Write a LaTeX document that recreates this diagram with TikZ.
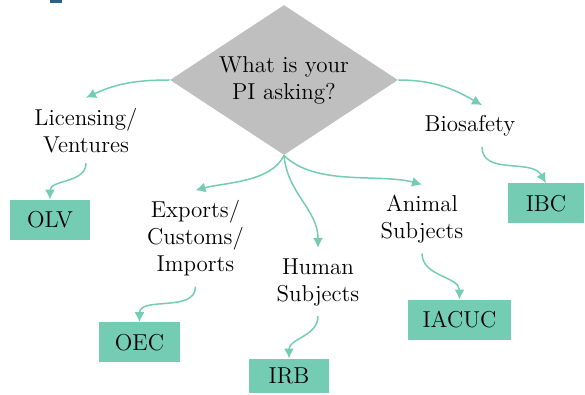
\documentclass[tikz,border=0pt]{standalone}
\usepackage{amsmath}
\usepackage{amssymb}
\usepackage{xcolor}
\usetikzlibrary{shapes.geometric,arrows.meta}

\definecolor{mint}{HTML}{74CDB2}
\definecolor{askgray}{HTML}{BFBFBF}
\definecolor{edgeblue}{HTML}{2E5F8A}

\begin{document}
\begin{tikzpicture}[x=0.5pt,y=0.5pt,
            topic/.style={align=center,inner sep=5pt,font=\fontsize{11.5}{13.5}\selectfont},
            office/.style={fill=mint,minimum height=20pt,inner sep=0pt,font=\fontsize{11.5}{13.5}\selectfont},
            link/.style={draw=mint,line width=0.75pt,-{Latex[length=5pt,width=5pt]}}]
            \useasboundingbox (0,0) rectangle (585,-395);
            \fill[edgeblue] (50,0) rectangle (62,-3);

            \node (ask) at (284,-80) [diamond,aspect=1.52,fill=askgray,inner sep=0pt,minimum width=114pt,minimum height=75pt,align=center,font=\fontsize{11.5}{13.5}\selectfont] {What is your\\PI asking?};

            \node (lic) at (86,-130.5) [topic] {Licensing/\\Ventures};
            \node (bio) at (470,-126) [topic] {Biosafety};
            \node (exp) at (195.5,-238.5) [topic] {Exports/\\Customs/\\Imports};
            \node (hum) at (318,-282) [topic] {Human\\Subjects};
            \node (ani) at (422,-219) [topic] {Animal\\Subjects};

            \node (olv) at (50,-220) [office,minimum width=40pt] {OLV};
            \node (oec) at (139.5,-342.5) [office,minimum width=40.5pt] {OEC};
            \node (irb) at (289,-376) [office,minimum width=40pt,minimum height=17pt] {IRB};
            \node (iacuc) at (459.5,-320) [office,minimum width=51.5pt] {IACUC};
            \node (ibc) at (546,-203.5) [office,minimum width=38pt] {IBC};

            % question to topics
            \draw[link] (ask.west) to[out=180,in=25] (lic.north);
            \draw[link] (ask.east) to[out=0,in=150] ([xshift=6pt]bio.north);
            \draw[link] (ask.south) to[out=-115,in=15,looseness=0.8] (exp.north);
            \draw[link] (ask.south) to[out=-85,in=90] (hum.north);
            \draw[link] (ask.south) to[out=-45,in=165,looseness=0.8] (ani.north);

            % topics to offices
            \draw[link] (lic.south) to[out=-90,in=90] (olv.north);
            \draw[link] ([xshift=6pt]bio.south) to[out=-90,in=120] (ibc.north);
            \draw[link] (exp.south) to[out=-90,in=90] (oec.north);
            \draw[link] (hum.south) to[out=-90,in=90] (irb.north);
            \draw[link] (ani.south) to[out=-90,in=90] (iacuc.north);

        \end{tikzpicture}
\end{document}
